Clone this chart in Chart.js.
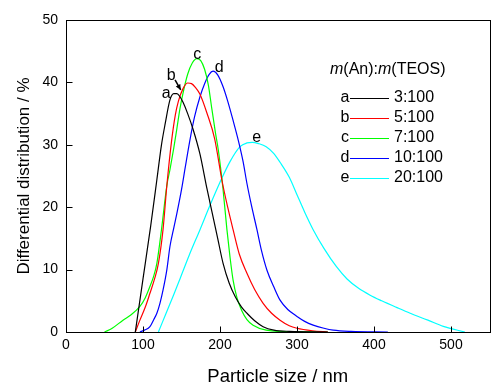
<!DOCTYPE html>
<html>
<head>
<meta charset="utf-8">
<script src="https://cdn.jsdelivr.net/npm/chart.js@4/dist/chart.umd.min.js"></script>
<style>
  html, body { margin: 0; padding: 0; background: #fff; }
</style>
</head>
<body>
<canvas id="chart" width="503" height="390"></canvas>
<script>
// particle size (nm) and differential distribution (%) for each sample
const sizeA = [90,100,110,118,124,129,135,140,144,148,152,158,165,174,183,190,197,204,212,220,228,235,245,256,270,290,340];
const distA = [0,8.5,17,24.4,30,33.5,37.2,38.2,38.2,37.7,36.8,35.0,32.5,28.5,23,19,15,11,7.8,5.6,4.0,3.0,1.8,0.85,0.3,0.1,0];

const sizeB = [90,96,103,109,115,120,126,131,137,142,146,152,158,163,168,174,183,193,203,210,217,225,235,245,256,267,278,290,300,320,340];
const distB = [0,1.9,4,6.2,8.5,11,16.4,23.5,30.5,34.8,37,39,39.9,39.8,39.2,38.1,35.1,31,24,20,16.4,12.5,9.4,6.8,4.6,3,1.9,1,0.6,0.2,0];

const sizeC = [50,60,74,85,96,103,109,114,118,124,131,135,140,144,148,152,158,164,170,175,180,185,189,194,198,204,209,213,217,222,228,235,243,260,290,340];
const distC = [0,0.6,1.9,2.8,4.1,5.5,7.3,9,11,16.4,23.5,26,29.5,32.6,35.8,38.3,41.3,43.1,43.8,43.5,42.1,39.5,36.1,32,29,22.8,16.4,12,8.3,5.5,3.5,2,1.1,0.3,0.05,0];

const sizeD = [96,102,109,114,118,122,126,131,135,140,144,150,155,161,167,174,180,186,191,197,204,210,217,224,230,235,241,248,254,261,270,278,288,300,310,321,335,347,370,418];
const distD = [0,0.3,0.85,2,3,4.6,6.7,10,13.7,16.7,19,22.8,26.5,30.8,34.5,37.7,39.8,41.3,41.8,41.2,39.3,37,33.9,30.6,27.3,23.8,20.2,16.4,13,9.9,7.2,5.1,3.6,2.5,1.7,1.1,0.6,0.3,0.1,0];

const sizeE = [120,130,140,148,160,174,187,200,213,226,235,242,250,260,270,278,290,300,310,321,335,351,365,380,395,410,430,447,470,490,518];
const distE = [0,3,6,8.5,12.3,16.4,20.3,24,27.3,29.7,30.3,30.4,30.2,29.7,28.6,27.2,24.8,22.0,19.2,16.4,13.4,10.5,8.5,7,5.9,5,3.9,3,1.9,0.9,0];

const seriesLetters = ['a', 'b', 'c', 'd', 'e'];
const ratioLabels = ['3:100', '5:100', '7:100', '10:100', '20:100'];
const seriesColors = ['#000000', '#ff0000', '#00ff00', '#0000ff', '#00ffff'];

// where the curve letters sit (data coords) and the little arrow from b
const letterX = [130, 136.5, 170.5, 199, 247.5];
const letterY = [38.2, 41.1, 44.4, 42.3, 31.1];
const arrowFrom = [141.6, 40.4];
const arrowTo = [149, 38.8];

const FONT = '"Liberation Sans", Arial, sans-serif';

const series = [[sizeA, distA], [sizeB, distB], [sizeC, distC], [sizeD, distD], [sizeE, distE]];

const datasets = series.map(([xs, ys], i) => ({
  label: ratioLabels[i],
  data: xs.map((v, j) => ({ x: v, y: ys[j] })),
  borderColor: seriesColors[i],
  borderWidth: 1.2,
  pointRadius: 0,
  showLine: true,
  fill: false,
  cubicInterpolationMode: 'monotone'
}));

const decor = {
  id: 'decor',
  afterDraw(chart) {
    const { ctx, chartArea: a, scales: { x, y } } = chart;
    ctx.save();
    ctx.strokeStyle = '#000';
    ctx.lineWidth = 1;
    const L = Math.round(a.left) + 0.5, T = Math.round(a.top) + 0.5;
    const R = Math.round(a.right) + 0.5, B = Math.round(a.bottom) + 0.5;
    ctx.strokeRect(L, T, R - L, B - T);

    // inward ticks
    ctx.beginPath();
    x.ticks.forEach(t => {
      const px = Math.round(x.getPixelForValue(t.value)) + 0.5;
      ctx.moveTo(px, B); ctx.lineTo(px, B - 6);
    });
    y.ticks.forEach(t => {
      const py = Math.round(y.getPixelForValue(t.value)) + 0.5;
      ctx.moveTo(L, py); ctx.lineTo(L + 6, py);
    });
    ctx.stroke();

    // curve letters
    ctx.fillStyle = '#000';
    ctx.font = '16px ' + FONT;
    ctx.textAlign = 'center';
    ctx.textBaseline = 'middle';
    seriesLetters.forEach((s, i) => {
      ctx.fillText(s, x.getPixelForValue(letterX[i]), y.getPixelForValue(letterY[i]));
    });

    // arrow b -> red curve
    const x0 = x.getPixelForValue(arrowFrom[0]), y0 = y.getPixelForValue(arrowFrom[1]);
    const x1 = x.getPixelForValue(arrowTo[0]), y1 = y.getPixelForValue(arrowTo[1]);
    const ang = Math.atan2(y1 - y0, x1 - x0);
    ctx.lineWidth = 1.5;
    ctx.beginPath();
    ctx.moveTo(x0, y0); ctx.lineTo(x1, y1);
    ctx.stroke();
    ctx.beginPath();
    ctx.moveTo(x1, y1);
    ctx.lineTo(x1 - 6 * Math.cos(ang - 0.45), y1 - 6 * Math.sin(ang - 0.45));
    ctx.lineTo(x1 - 6 * Math.cos(ang + 0.45), y1 - 6 * Math.sin(ang + 0.45));
    ctx.closePath();
    ctx.fill();
    ctx.lineWidth = 1;

    // legend
    ctx.textAlign = 'left';
    let tx = 330;
    const titleParts = [['m', true], ['(An):', false], ['m', true], ['(TEOS)', false]];
    titleParts.forEach(([txt, it]) => {
      ctx.font = (it ? 'italic ' : '') + '16px ' + FONT;
      ctx.fillText(txt, tx, 70);
      tx += ctx.measureText(txt).width;
    });
    ctx.font = '16px ' + FONT;
    seriesLetters.forEach((s, i) => {
      const ry = 98 + i * 20;
      ctx.fillStyle = '#000';
      ctx.textAlign = 'center';
      ctx.fillText(s, 345, ry);
      ctx.strokeStyle = seriesColors[i];
      ctx.beginPath();
      ctx.moveTo(350, Math.round(ry) + 0.5);
      ctx.lineTo(389, Math.round(ry) + 0.5);
      ctx.stroke();
      ctx.textAlign = 'left';
      ctx.fillText(ratioLabels[i], 394, ry);
    });
    ctx.restore();
  }
};

new Chart(document.getElementById('chart'), {
  type: 'scatter',
  data: { datasets },
  options: {
    responsive: false,
    animation: false,
    devicePixelRatio: 1,
    layout: { padding: { top: 20, right: 13.5, left: 0, bottom: 0 } },
    plugins: { legend: { display: false }, tooltip: { enabled: false } },
    scales: {
      x: {
        type: 'linear',
        min: 0,
        max: 550,
        afterFit: s => { s.height = 58; },
        ticks: { stepSize: 100, includeBounds: false, color: '#000', padding: 5, maxRotation: 0, font: { size: 14, family: FONT } },
        grid: { display: false, drawTicks: false },
        border: { display: false },
        title: { display: true, text: 'Particle size / nm', color: '#000', font: { size: 18.5, family: FONT, lineHeight: 1.2 }, padding: { top: 0, bottom: 2 } }
      },
      y: {
        type: 'linear',
        min: 0,
        max: 50,
        afterFit: s => { s.width = 66; },
        ticks: { stepSize: 10, color: '#000', padding: 8, font: { size: 14, family: FONT } },
        grid: { display: false, drawTicks: false },
        border: { display: false },
        title: { display: true, text: 'Differential distribution / %', color: '#000', font: { size: 17, family: FONT, lineHeight: 1.2 }, padding: { top: 14, bottom: 0 } }
      }
    }
  },
  plugins: [decor]
});
</script>
</body>
</html>
